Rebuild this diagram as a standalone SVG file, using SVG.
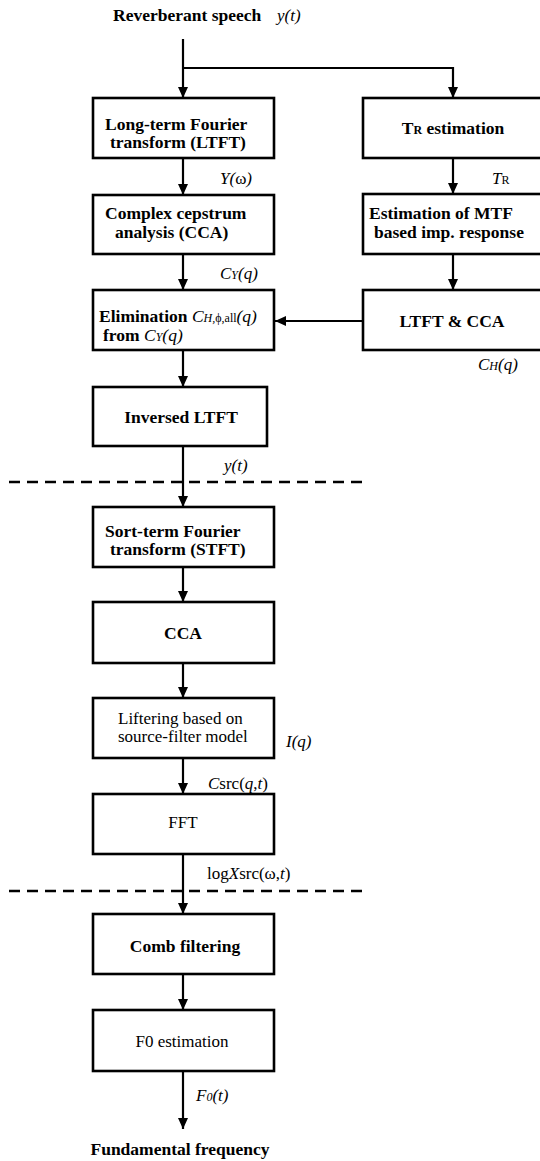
<svg xmlns="http://www.w3.org/2000/svg" width="540" height="1161" viewBox="0 0 540 1161">
<style>
.box{fill:#fff;stroke:#000;stroke-width:2.6}
.b{font-family:"Liberation Serif","DejaVu Serif",serif;font-weight:bold;font-size:17.5px;fill:#000}
.r{font-family:"Liberation Serif","DejaVu Serif",serif;font-size:17px;fill:#000}
.i{font-family:"Liberation Serif","DejaVu Serif",serif;font-style:italic;font-size:17px;fill:#000}
.c{text-anchor:middle}
.sm{font-size:12px}
.up{font-style:normal}
.con{fill:none;stroke:#000;stroke-width:2.2}
.dash{fill:none;stroke:#000;stroke-width:2.5;stroke-dasharray:11 7}
</style>
<defs>
<marker id="arr" viewBox="0 0 11 10" refX="11" refY="5" markerWidth="11" markerHeight="10" markerUnits="userSpaceOnUse" orient="auto">
<path d="M0,0 L11,5 L0,10 z" fill="#000"/>
</marker>
</defs>
<g id="connectors">
<path class="con" d="M183,39 V98" marker-end="url(#arr)"/>
<path class="con" d="M183,68 H453 V98" marker-end="url(#arr)"/>
<path class="con" d="M183,158 V195" marker-end="url(#arr)"/>
<path class="con" d="M453,158 V194" marker-end="url(#arr)"/>
<path class="con" d="M183,254 V290" marker-end="url(#arr)"/>
<path class="con" d="M453,254 V290" marker-end="url(#arr)"/>
<path class="con" d="M363,321 H275" marker-end="url(#arr)"/>
<path class="con" d="M183,350 V387" marker-end="url(#arr)"/>
<path class="con" d="M183,446 V507" marker-end="url(#arr)"/>
<path class="con" d="M183,567 V602" marker-end="url(#arr)"/>
<path class="con" d="M183,663 V698" marker-end="url(#arr)"/>
<path class="con" d="M183,758 V794" marker-end="url(#arr)"/>
<path class="con" d="M183,854 V914" marker-end="url(#arr)"/>
<path class="con" d="M183,974 V1010" marker-end="url(#arr)"/>
<path class="con" d="M183,1071 V1129" marker-end="url(#arr)"/>
</g>
<g id="dividers">
<path class="dash" d="M9,482 H363"/>
<path class="dash" d="M9,891 H363"/>
</g>
<g id="labels">
<text class="b" x="113" y="21">Reverberant speech</text>
<text class="i" x="277" y="21">y(t)</text>
<text class="i" x="220" y="184">Y(<tspan class="up">ω</tspan>)</text>
<text class="i" x="492" y="184">T<tspan class="sm up">R</tspan></text>
<text class="i" x="220" y="279">C<tspan class="sm">Y</tspan>(q)</text>
<text class="i" x="478" y="370">C<tspan class="sm">H</tspan>(q)</text>
<text class="i" x="224" y="471">y(t)</text>
<text class="i" x="286" y="747">I(q)</text>
<text class="i" x="208" y="789">C<tspan class="up">src(</tspan>q<tspan class="up">,</tspan>t<tspan class="up">)</tspan></text>
<text class="r" x="207" y="879">log<tspan font-style="italic">X</tspan>src(ω,<tspan font-style="italic">t</tspan>)</text>
<text class="i" x="196" y="1101">F<tspan class="sm">0</tspan>(t)</text>
<text class="b c" x="180" y="1155">Fundamental frequency</text>
</g>
<g id="ltft">
<rect class="box" x="93" y="98" width="181" height="60"/>
<text class="b" x="105" y="130">Long-term Fourier</text>
<text class="b" x="110" y="148">transform (LTFT)</text>
</g>
<g id="tr">
<rect class="box" x="363" y="98" width="185" height="60"/>
<text class="b c" x="453" y="134">T<tspan class="sm">R</tspan> estimation</text>
</g>
<g id="cca1">
<rect class="box" x="93" y="195" width="181" height="59"/>
<text class="b" x="105" y="219">Complex cepstrum</text>
<text class="b" x="115" y="238">analysis (CCA)</text>
</g>
<g id="mtf">
<rect class="box" x="363" y="194" width="185" height="60"/>
<text class="b" x="369" y="219">Estimation of MTF</text>
<text class="b" x="374" y="238">based imp. response</text>
</g>
<g id="elim">
<rect class="box" x="93" y="290" width="181" height="60"/>
<text class="b" x="99" y="322">Elimination <tspan font-style="italic" font-weight="normal">C</tspan><tspan font-style="italic" font-weight="normal" font-size="12px">H,</tspan><tspan font-weight="normal" font-size="12px">ϕ,all</tspan><tspan font-style="italic" font-weight="normal">(q)</tspan></text>
<text class="b" x="103" y="341">from <tspan font-style="italic" font-weight="normal">C</tspan><tspan font-style="italic" font-weight="normal" font-size="12px">Y</tspan><tspan font-style="italic" font-weight="normal">(q)</tspan></text>
</g>
<g id="ltftcca">
<rect class="box" x="363" y="290" width="185" height="60"/>
<text class="b c" x="452" y="327">LTFT &amp; CCA</text>
</g>
<g id="iltft">
<rect class="box" x="93" y="387" width="174" height="59"/>
<text class="b c" x="181" y="423">Inversed LTFT</text>
</g>
<g id="stft">
<rect class="box" x="93" y="507" width="181" height="60"/>
<text class="b" x="105" y="537">Sort-term Fourier</text>
<text class="b" x="110" y="555">transform (STFT)</text>
</g>
<g id="cca2">
<rect class="box" x="93" y="602" width="181" height="61"/>
<text class="b c" x="183" y="639">CCA</text>
</g>
<g id="liftering">
<rect class="box" x="93" y="698" width="181" height="60"/>
<text class="r" x="118" y="724">Liftering based on</text>
<text class="r" x="118" y="742">source-filter model</text>
</g>
<g id="fft">
<rect class="box" x="93" y="794" width="181" height="60"/>
<text class="r c" x="183" y="828">FFT</text>
</g>
<g id="comb">
<rect class="box" x="93" y="914" width="181" height="60"/>
<text class="b c" x="185" y="952">Comb filtering</text>
</g>
<g id="f0">
<rect class="box" x="93" y="1010" width="181" height="61"/>
<text class="r c" x="182" y="1047">F0 estimation</text>
</g>
</svg>
